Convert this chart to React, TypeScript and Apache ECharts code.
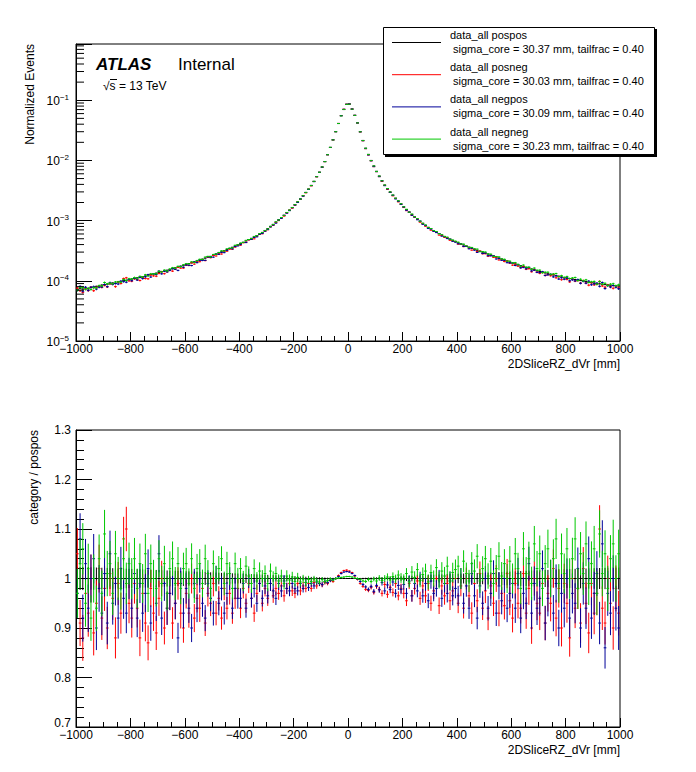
import React, { useEffect, useRef } from "react";
import * as echarts from "echarts";

// ---------- data ----------
const BIN_LOW = -1000;
const BIN_WIDTH = 10;

// normalized pospos distribution, 200 bins of 10 mm from -1000 to 1000
const POSPOS = [
  // -995 .. -805
  7.2e-5, 7.5e-5, 7.3e-5, 7.6e-5, 7.4e-5, 7.8e-5, 7.7e-5, 8.1e-5, 8.0e-5, 8.5e-5,
  8.6e-5, 8.8e-5, 8.9e-5, 9.2e-5, 9.1e-5, 9.6e-5, 9.7e-5, 1.01e-4, 1.02e-4, 1.05e-4,
  // -795 .. -605
  1.07e-4, 1.09e-4, 1.12e-4, 1.15e-4, 1.17e-4, 1.2e-4, 1.24e-4, 1.27e-4, 1.3e-4, 1.34e-4,
  1.38e-4, 1.42e-4, 1.46e-4, 1.5e-4, 1.54e-4, 1.59e-4, 1.64e-4, 1.69e-4, 1.75e-4, 1.81e-4,
  // -595 .. -405
  1.87e-4, 1.93e-4, 1.99e-4, 2.06e-4, 2.13e-4, 2.21e-4, 2.29e-4, 2.38e-4, 2.52e-4, 2.55e-4,
  2.66e-4, 2.78e-4, 2.9e-4, 3.03e-4, 3.16e-4, 3.3e-4, 3.45e-4, 3.61e-4, 3.78e-4, 3.96e-4,
  // -395 .. -205
  4.16e-4, 4.37e-4, 4.59e-4, 4.83e-4, 5.08e-4, 5.36e-4, 5.66e-4, 5.99e-4, 6.36e-4, 6.8e-4,
  7.35e-4, 7.95e-4, 8.65e-4, 9.45e-4, 1.03e-3, 1.12e-3, 1.23e-3, 1.36e-3, 1.5e-3, 1.65e-3,
  // -195 .. -5
  1.85e-3, 2.05e-3, 2.3e-3, 2.6e-3, 2.95e-3, 3.35e-3, 3.85e-3, 4.5e-3, 5.4e-3, 6.4e-3,
  7.8e-3, 9.6e-3, 1.25e-2, 1.65e-2, 2.2e-2, 3.0e-2, 4.1e-2, 5.5e-2, 7.0e-2, 8.5e-2,
  // 5 .. 195
  8.6e-2, 7.1e-2, 5.6e-2, 4.2e-2, 3.0e-2, 2.15e-2, 1.6e-2, 1.26e-2, 1.0e-2, 8.1e-3,
  6.6e-3, 5.5e-3, 4.6e-3, 3.9e-3, 3.4e-3, 3.0e-3, 2.65e-3, 2.36e-3, 2.12e-3, 1.9e-3,
  // 205 .. 395
  1.7e-3, 1.53e-3, 1.39e-3, 1.27e-3, 1.16e-3, 1.06e-3, 9.8e-4, 9.0e-4, 8.35e-4, 7.75e-4,
  7.3e-4, 6.85e-4, 6.45e-4, 6.08e-4, 5.75e-4, 5.45e-4, 5.18e-4, 4.93e-4, 4.7e-4, 4.48e-4,
  // 405 .. 595
  4.28e-4, 4.1e-4, 3.93e-4, 3.77e-4, 3.62e-4, 3.48e-4, 3.35e-4, 3.22e-4, 3.1e-4, 2.99e-4,
  2.89e-4, 2.78e-4, 2.68e-4, 2.58e-4, 2.48e-4, 2.39e-4, 2.3e-4, 2.21e-4, 2.13e-4, 2.05e-4,
  // 605 .. 795
  1.98e-4, 1.91e-4, 1.84e-4, 1.78e-4, 1.72e-4, 1.67e-4, 1.62e-4, 1.57e-4, 1.52e-4, 1.47e-4,
  1.43e-4, 1.39e-4, 1.35e-4, 1.31e-4, 1.28e-4, 1.25e-4, 1.22e-4, 1.19e-4, 1.16e-4, 1.13e-4,
  // 805 .. 995
  1.11e-4, 1.09e-4, 1.07e-4, 1.05e-4, 1.03e-4, 1.01e-4, 9.9e-5, 9.7e-5, 9.5e-5, 9.35e-5,
  9.2e-5, 9.05e-5, 8.9e-5, 8.75e-5, 8.65e-5, 8.55e-5, 8.45e-5, 8.35e-5, 8.3e-5, 8.2e-5,
];

// ratio category / pospos per bin (rows of 20 bins = 200 mm)
const RATIO_POSNEG = [
  1.05, 0.91, 0.88, 0.97, 0.93, 1.00, 0.89, 0.95, 1.02, 0.92, 0.98, 0.90, 1.01, 0.96, 0.88, 0.99, 0.93, 1.08, 1.10, 0.95,
  0.92, 0.99, 0.94, 0.88, 0.97, 0.91, 0.87, 0.98, 0.93, 0.89, 0.96, 1.00, 0.90, 0.94, 0.97, 0.91, 0.95, 0.99, 0.93, 0.90,
  0.97, 0.93, 1.00, 0.92, 0.96, 0.94, 0.98, 0.91, 0.97, 0.95, 0.99, 0.93, 0.96, 0.92, 0.98, 0.94, 0.97, 0.93, 0.96, 0.98,
  0.94, 0.98, 0.95, 0.99, 0.96, 0.93, 0.97, 0.99, 0.95, 0.98, 0.96, 0.99, 0.965, 0.98, 0.97, 0.985, 0.965, 0.98, 0.99, 0.975,
  0.97, 0.99, 0.975, 0.985, 0.98, 0.99, 0.98, 0.992, 0.985, 0.99, 0.987, 0.992, 0.99, 0.996, 0.994, 1.0, 1.006, 1.012, 1.016, 1.017,
  1.015, 1.012, 1.005, 0.998, 0.99, 0.984, 0.978, 0.976, 0.982, 0.972, 0.984, 0.978, 0.97, 0.988, 0.968, 0.982, 0.972, 0.99, 0.965, 0.98,
  0.97, 0.955, 0.99, 0.965, 0.98, 0.995, 0.96, 0.985, 0.965, 0.99, 0.95, 0.975, 1.0, 0.945, 0.985, 0.965, 0.99, 0.955, 0.975, 1.0,
  0.95, 0.985, 0.94, 1.0, 0.965, 0.93, 0.99, 0.955, 1.01, 0.94, 0.975, 0.92, 0.985, 0.95, 1.0, 0.93, 0.97, 0.945, 1.01, 0.955,
  0.92, 0.99, 0.95, 0.94, 1.01, 0.93, 0.98, 0.90, 1.00, 0.95, 0.93, 0.99, 0.91, 0.97, 0.95, 1.02, 0.92, 0.98, 0.90, 0.99,
  0.95, 0.88, 1.00, 0.94, 0.98, 0.91, 1.02, 0.95, 0.89, 0.99, 0.93, 0.97, 1.10, 0.94, 0.91, 1.00, 0.95, 0.90, 0.98, 0.93,
];
const RATIO_NEGPOS = [
  0.97, 1.08, 0.92, 1.03, 0.94, 1.00, 1.04, 0.90, 0.98, 0.93, 1.01, 0.91, 1.05, 0.95, 0.99, 0.92, 1.02, 0.96, 0.93, 1.00,
  0.94, 1.01, 0.92, 0.99, 0.93, 0.97, 1.02, 0.91, 1.00, 0.95, 1.05, 0.92, 0.99, 0.94, 0.97, 1.00, 0.95, 0.88, 0.99, 0.93,
  0.98, 0.94, 0.90, 0.99, 0.94, 1.00, 0.95, 0.92, 0.99, 0.96, 0.93, 1.00, 0.95, 0.98, 0.93, 0.97, 1.00, 0.94, 0.98, 0.96,
  0.96, 0.99, 0.94, 1.00, 0.96, 0.98, 0.95, 0.99, 0.96, 0.985, 0.965, 0.99, 0.975, 0.96, 0.99, 0.975, 0.995, 0.98, 0.975, 0.99,
  0.98, 0.975, 0.99, 0.98, 0.992, 0.982, 0.99, 0.985, 0.993, 0.99, 0.988, 0.994, 0.992, 0.996, 0.998, 1.0, 1.004, 1.01, 1.013, 1.014,
  1.013, 1.01, 1.006, 0.999, 0.994, 0.988, 0.983, 0.978, 0.984, 0.974, 0.986, 0.977, 0.992, 0.975, 0.987, 0.978, 0.993, 0.97, 0.986, 0.978,
  0.988, 0.97, 0.995, 0.965, 0.99, 0.975, 1.0, 0.965, 0.99, 0.955, 0.995, 0.97, 0.98, 1.0, 0.96, 0.99, 0.97, 0.995, 0.965, 0.98,
  0.965, 1.0, 0.95, 0.985, 0.94, 1.01, 0.965, 0.92, 0.985, 0.95, 1.0, 0.94, 0.97, 1.01, 0.93, 0.985, 0.955, 1.0, 0.94, 0.97,
  0.99, 0.94, 1.01, 0.92, 0.97, 0.95, 1.03, 0.93, 0.99, 0.94, 0.96, 1.02, 0.91, 0.96, 1.00, 0.93, 0.99, 0.90, 0.97, 0.94,
  1.00, 0.92, 0.97, 0.95, 1.02, 0.90, 0.99, 0.94, 1.04, 0.92, 0.97, 1.01, 0.91, 1.07, 0.86, 0.97, 0.93, 1.00, 0.94, 0.90,
];
const RATIO_NEGNEG = [
  0.97, 1.03, 1.06, 0.95, 1.02, 0.92, 1.00, 0.94, 1.04, 0.97, 1.09, 1.01, 1.03, 0.97, 1.05, 1.00, 0.98, 1.04, 0.99, 1.03,
  1.00, 1.04, 0.98, 1.03, 0.99, 1.05, 0.97, 1.03, 1.00, 0.98, 1.04, 0.99, 1.03, 0.97, 1.02, 1.04, 0.99, 1.03, 0.98, 1.02,
  1.03, 0.99, 1.04, 0.98, 1.02, 1.03, 0.99, 1.04, 1.01, 0.98, 1.03, 1.00, 1.02, 1.04, 0.99, 1.03, 1.01, 0.98, 1.03, 1.00,
  1.02, 0.995, 1.025, 1.005, 0.99, 1.02, 0.995, 1.015, 1.0, 1.01, 0.99, 1.015, 1.0, 1.01, 0.995, 1.005, 0.99, 1.005, 0.997, 1.003,
  0.994, 1.002, 0.993, 0.999, 0.992, 0.998, 0.994, 0.999, 0.995, 0.993, 0.998, 0.994, 0.996, 0.999, 0.997, 1.0, 1.001, 1.002, 1.003, 1.004,
  1.004, 1.003, 1.001, 1.0, 0.998, 0.995, 0.994, 0.998, 0.994, 0.999, 0.995, 1.001, 0.996, 1.0, 1.003, 0.997, 1.004, 0.999, 1.007, 1.001,
  0.998, 1.01, 0.993, 1.013, 1.002, 1.018, 0.996, 1.008, 1.015, 0.993, 1.012, 1.0, 1.022, 0.997, 1.015, 1.005, 1.025, 0.995, 1.012, 1.018,
  1.025, 1.0, 1.035, 1.01, 0.995, 1.03, 1.015, 1.045, 0.995, 1.02, 1.04, 1.005, 1.035, 0.99, 1.02, 1.045, 1.005, 1.03, 1.0, 1.035,
  1.00, 1.05, 1.02, 0.98, 1.06, 1.01, 1.04, 0.99, 1.07, 1.02, 1.05, 0.98, 1.03, 1.06, 1.00, 1.04, 1.08, 0.99, 1.05, 1.01,
  1.06, 1.00, 1.04, 1.08, 0.98, 1.05, 1.01, 1.07, 0.99, 1.03, 1.06, 0.97, 1.09, 1.01, 1.05, 0.98, 1.04, 1.07, 1.00, 1.05,
];

// event counts used for the statistical error bars
const EVENTS_POSPOS = 2.5e7;
const EVENTS_OTHER = 7e6;

const LEGEND_NAMES = ["data_all pospos", "data_all posneg", "data_all negpos", "data_all negneg"];
const SIGMA_CORE = ["30.37", "30.03", "30.09", "30.23"];
const TAILFRAC = ["0.40", "0.40", "0.40", "0.40"];
const COLORS = ["#000000", "#ff0000", "#000099", "#00c800"];

const X_MIN = -1000;
const X_MAX = 1000;
const LOG_MIN = 1e-5;
const LOG_MAX = 0.86;
const RATIO_MIN = 0.7;
const RATIO_MAX = 1.3;

const FONT = '"Liberation Sans", Arial, Helvetica, sans-serif';

// ---------- helpers ----------
const centers = POSPOS.map((_, i) => BIN_LOW + BIN_WIDTH * (i + 0.5));

function topData(ratio: number[] | null, events: number) {
  return POSPOS.map((v, i) => {
    const y = ratio ? v * ratio[i] : v;
    const e = Math.sqrt(y / events);
    return [centers[i], y, Math.max(y - e, 1e-9), y + e];
  });
}

function ratioData(ratio: number[] | null) {
  return POSPOS.map((v, i) => {
    const r = ratio ? ratio[i] : 1;
    const relPP = 1 / Math.sqrt(v * EVENTS_POSPOS);
    const rel = ratio ? Math.sqrt(1 / (v * r * EVENTS_OTHER) + relPP * relPP) : relPP;
    const e = r * rel;
    return [centers[i], r, r - e, r + e];
  });
}

function errSeries(grid: number, data: number[][], color: string, z: number) {
  return {
    type: "custom",
    xAxisIndex: grid,
    yAxisIndex: grid,
    data,
    z,
    clip: true,
    silent: true,
    encode: { x: 0, y: 1 },
    renderItem: (_p: any, api: any) => {
      const x = api.value(0);
      const y = api.value(1);
      const lo = api.value(2);
      const hi = api.value(3);
      const a = api.coord([x - BIN_WIDTH / 2, y]);
      const b = api.coord([x + BIN_WIDTH / 2, y]);
      const c = api.coord([x, lo]);
      const d = api.coord([x, hi]);
      return {
        type: "group",
        children: [
          { type: "line", shape: { x1: a[0], y1: a[1], x2: b[0], y2: b[1] }, style: { stroke: color, lineWidth: 1 } },
          { type: "line", shape: { x1: c[0], y1: c[1], x2: d[0], y2: d[1] }, style: { stroke: color, lineWidth: 1 } },
        ],
      };
    },
  };
}

// minor ticks of the log axis (2..9 x 10^n)
const LOG_MINOR: number[][] = [];
for (let n = -5; n <= -1; n++) {
  for (let m = 2; m <= 9; m++) {
    const v = m * Math.pow(10, n);
    if (v < LOG_MAX) LOG_MINOR.push([X_MIN, v]);
  }
}

const minusFmt = (v: number) => (v < 0 ? "\u2212" + Math.abs(v) : String(v));

function xAxis(grid: number) {
  return {
    type: "value",
    gridIndex: grid,
    min: X_MIN,
    max: X_MAX,
    interval: 200,
    axisLine: { show: true, onZero: false, lineStyle: { color: "#000", width: 1 } },
    axisTick: { show: true, inside: true, length: 9, lineStyle: { color: "#000" } },
    minorTick: { show: true, splitNumber: 4, length: 5, lineStyle: { color: "#000" } },
    splitLine: { show: false },
    minorSplitLine: { show: false },
    axisLabel: { formatter: minusFmt, margin: 2, fontSize: 12, color: "#000", fontFamily: FONT },
  };
}

export default function App() {
  const ref = useRef<HTMLDivElement>(null);

  useEffect(() => {
    if (!ref.current) return;
    const chart = echarts.init(ref.current, null, { renderer: "svg" });

    const ratios = [null, RATIO_POSNEG, RATIO_NEGPOS, RATIO_NEGNEG];
    const series: any[] = [];
    ratios.forEach((r, k) => {
      series.push(errSeries(0, topData(r, k === 0 ? EVENTS_POSPOS : EVENTS_OTHER), COLORS[k], 2 + k));
    });
    ratios.forEach((r, k) => {
      series.push(errSeries(1, ratioData(r), COLORS[k], 2 + k));
    });
    series.push({
      type: "custom",
      xAxisIndex: 0,
      yAxisIndex: 0,
      data: LOG_MINOR,
      z: 6,
      silent: true,
      encode: { x: 0, y: 1 },
      renderItem: (_p: any, api: any) => {
        const p = api.coord([api.value(0), api.value(1)]);
        return { type: "line", shape: { x1: p[0], y1: p[1], x2: p[0] + 8, y2: p[1] }, style: { stroke: "#000", lineWidth: 1 } };
      },
    });

    const graphics: any[] = [
      { type: "text", x: 30, y: 44, rotation: Math.PI / 2, z: 20,
        style: { text: "Normalized Events", font: `12px ${FONT}`, fill: "#000", align: "right", verticalAlign: "middle" } },
      { type: "text", x: 34, y: 430, rotation: Math.PI / 2, z: 20,
        style: { text: "category / pospos", font: `12px ${FONT}`, fill: "#000", align: "right", verticalAlign: "middle" } },
      { type: "text", x: 620, y: 364, z: 20,
        style: { text: "2DSliceRZ_dVr [mm]", font: `12px ${FONT}`, fill: "#000", align: "right", verticalAlign: "middle" } },
      { type: "text", x: 620, y: 750, z: 20,
        style: { text: "2DSliceRZ_dVr [mm]", font: `12px ${FONT}`, fill: "#000", align: "right", verticalAlign: "middle" } },
      { type: "text", x: 96, y: 64, z: 20,
        style: { text: "ATLAS", font: `italic bold 17px ${FONT}`, fill: "#000", align: "left", verticalAlign: "middle" } },
      { type: "text", x: 178, y: 64, z: 20,
        style: { text: "Internal", font: `17px ${FONT}`, fill: "#000", align: "left", verticalAlign: "middle" } },
      { type: "text", x: 103, y: 85.5, z: 20,
        style: { text: "\u221as = 13 TeV", font: `12px ${FONT}`, fill: "#000", align: "left", verticalAlign: "middle" } },
      { type: "line", z: 20, shape: { x1: 110, y1: 79.5, x2: 117, y2: 79.5 }, style: { stroke: "#000", lineWidth: 1 } },
      // legend
      { type: "rect", z: 20, shape: { x: 385, y: 29, width: 272, height: 128 }, style: { fill: "#000" } },
      { type: "rect", z: 21, shape: { x: 383.5, y: 27.5, width: 271, height: 127 }, style: { fill: "#fff", stroke: "#000", lineWidth: 1 } },
    ];
    LEGEND_NAMES.forEach((name, i) => {
      const dy = 32.2 * i;
      graphics.push(
        { type: "line", z: 22, shape: { x1: 392, y1: 42.5 + dy, x2: 441, y2: 42.5 + dy }, style: { stroke: COLORS[i], lineWidth: 1 } },
        { type: "text", x: 450, y: 35 + dy, z: 22,
          style: { text: name, font: `11px ${FONT}`, fill: "#000", align: "left", verticalAlign: "middle" } },
        { type: "text", x: 453, y: 49 + dy, z: 22,
          style: { text: `sigma_core = ${SIGMA_CORE[i]} mm, tailfrac = ${TAILFRAC[i]}`, font: `11px ${FONT}`, fill: "#000", align: "left", verticalAlign: "middle" } },
      );
    });

    chart.setOption({
      animation: false,
      backgroundColor: "#fff",
      textStyle: { fontFamily: FONT, color: "#000" },
      grid: [
        { left: 76, top: 44, width: 544, height: 297, show: true, borderColor: "#000", borderWidth: 1, backgroundColor: "transparent" },
        { left: 76, top: 430, width: 544, height: 297, show: true, borderColor: "#000", borderWidth: 1, backgroundColor: "transparent" },
      ],
      xAxis: [xAxis(0), xAxis(1)],
      yAxis: [
        {
          type: "log",
          logBase: 10,
          gridIndex: 0,
          min: LOG_MIN,
          max: LOG_MAX,
          axisLine: { show: true, onZero: false, lineStyle: { color: "#000" } },
          axisTick: { show: true, inside: true, length: 16, lineStyle: { color: "#000" } },
          splitLine: { show: false },
          axisLabel: {
            margin: 7,
            color: "#000",
            formatter: (v: number) => {
              const l = Math.log10(v);
              const e = Math.round(l);
              if (Math.abs(l - e) > 1e-6) return "";
              return `{b|10}{s|${e < 0 ? "\u2212" : ""}${Math.abs(e)}}`;
            },
            rich: {
              b: { fontSize: 12, fontFamily: FONT, color: "#000", lineHeight: 14, verticalAlign: "bottom" },
              s: { fontSize: 8, fontFamily: FONT, color: "#000", verticalAlign: "top" },
            },
          },
        },
        {
          type: "value",
          gridIndex: 1,
          min: RATIO_MIN,
          max: RATIO_MAX,
          interval: 0.1,
          axisLine: { show: true, onZero: false, lineStyle: { color: "#000" } },
          axisTick: { show: true, inside: true, length: 16, lineStyle: { color: "#000" } },
          minorTick: { show: true, splitNumber: 5, length: 8, lineStyle: { color: "#000" } },
          splitLine: { show: false },
          minorSplitLine: { show: false },
          axisLabel: {
            margin: 5,
            fontSize: 12,
            color: "#000",
            fontFamily: FONT,
            formatter: (v: number) => {
              const s = String(Math.round(v * 10) / 10);
              return Math.abs(v - RATIO_MIN) < 1e-6 ? `{lo|${s}}` : s;
            },
            rich: {
              lo: { fontSize: 12, fontFamily: FONT, color: "#000", padding: [0, 0, 9, 0] },
            },
          },
        },
      ],
      series,
      graphic: graphics,
    });

    return () => chart.dispose();
  }, []);

  return (
    <div
      ref={ref}
      style={{ position: "fixed", left: 0, top: 0, width: 696, height: 772, background: "#fff" }}
    />
  );
}
